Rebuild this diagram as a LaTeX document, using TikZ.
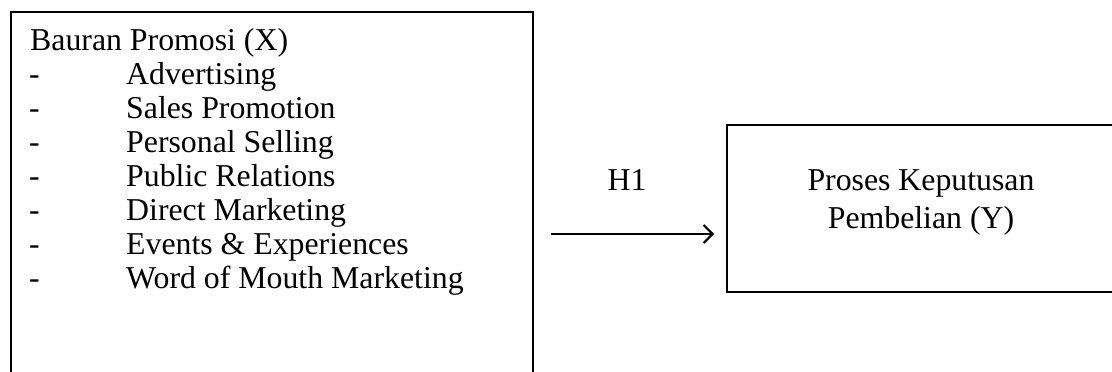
\documentclass[tikz,border=0pt]{standalone}
\usepackage{fontspec}
\setmainfont{Liberation Serif}
\usetikzlibrary{arrows.meta}

\tikzset{
  frame/.style={draw=black, line width=2pt, fill=none, inner sep=0pt},
  txt/.style={inner sep=0pt, anchor=base west, font=\fontsize{31.8}{38}\selectfont},
  ctxt/.style={inner sep=0pt, anchor=base, font=\fontsize{31.8}{38}\selectfont},
  link/.style={line width=2pt, -{Straight Barb[length=9pt,width=18pt,line width=2pt]}}
}

\begin{document}
\begin{tikzpicture}[x=1pt,y=-1pt]
  \useasboundingbox (0,0) rectangle (1112,372);
  \clip (0,0) rectangle (1112,372);

  % independent variable box (runs past the lower edge)
  \node[frame, anchor=north west, minimum width=522pt, minimum height=420pt] (X) at (10,11) {};
  % dependent variable box (runs past the right edge)
  \node[frame, anchor=north west, minimum width=390pt, minimum height=167pt] (Y) at (726,124) {};

  % list inside the left box
  \node[txt] (xt) at (30,50) {Bauran Promosi (X)};
  \foreach \i/\item in {1/Advertising, 2/Sales Promotion, 3/Personal Selling,
                        4/Public Relations, 5/Direct Marketing,
                        6/Events \& Experiences, 7/Word of Mouth Marketing} {
    \node[txt] (d\i) at (29,50+34.1*\i) {-};
    \node[txt] (i\i) at (126,50+34.1*\i) {\item};
  }

  % text of the right box
  \node[ctxt] (y1) at (921,190) {Proses Keputusan};
  \node[ctxt] (y2) at (921,228) {Pembelian (Y)};

  % hypothesis arrow
  \coordinate (h0) at (551,234);
  \draw[link, shorten >=12pt] (h0) -- (h0 -| Y.west);
  \node[ctxt] (h1) at (627,190) {H1};
\end{tikzpicture}
\end{document}
